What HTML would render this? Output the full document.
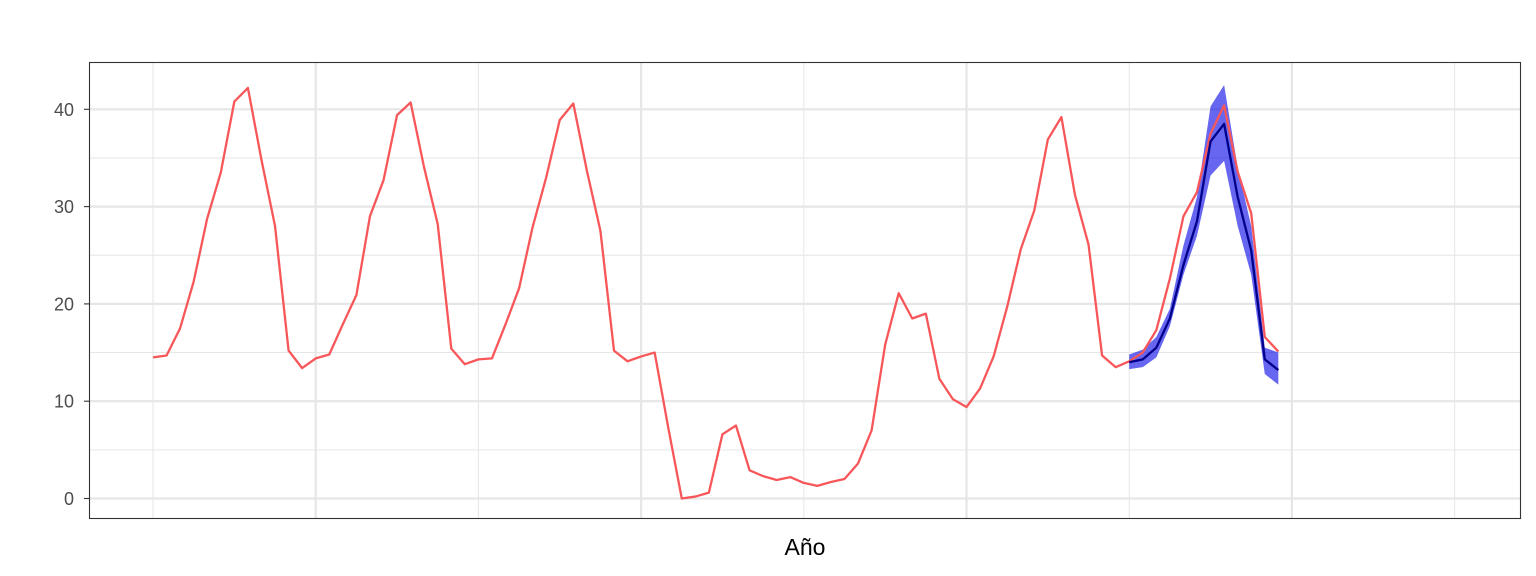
<!DOCTYPE html>
<html><head><meta charset="utf-8"><style>
html,body{margin:0;padding:0;background:#fff;}
svg{display:block;font-family:"Liberation Sans",Arial,sans-serif;}
</style></head><body>
<svg id="chart" width="1536" height="576" viewBox="0 0 1536 576">
<g id="grid"></g>
<g id="yaxis"></g>
<g id="series"></g>
<rect x="89.5" y="62.5" width="1431" height="456" fill="none" stroke="#333" stroke-width="1.1"/>
<text x="805" y="555" text-anchor="middle" font-size="23" fill="#000">Año</text>
</svg>
<script>
const observed = [14.5,14.7,17.5,22.3,28.8,33.5,40.8,42.2,34.8,28.0,15.2,13.4,
14.4,14.8,17.9,20.9,29.0,32.7,39.4,40.7,34.0,28.2,15.4,13.8,
14.3,14.4,17.9,21.6,27.9,33.0,38.9,40.6,33.7,27.5,15.2,14.1,
14.6,15.0,7.3,0.0,0.2,0.6,6.6,7.5,2.9,2.3,1.9,2.2,
1.6,1.3,1.7,2.0,3.6,7.0,15.8,21.1,18.5,19.0,12.3,10.2,
9.4,11.3,14.6,19.7,25.6,29.6,36.9,39.2,31.2,26.1,14.7,13.5,
14.1,15.0,17.3,22.6,29.0,31.5,37.5,40.4,33.6,29.3,16.6,15.1];
const forecastStart = 72;
const forecastMean = [14.0,14.3,15.5,18.5,24.0,28.5,36.7,38.5,31.0,25.5,14.3,13.2];
const forecastLower = [13.3,13.5,14.5,17.7,23.0,27.0,33.2,34.7,28.0,23.0,12.8,11.7];
const forecastUpper = [14.8,15.3,16.6,19.5,26.0,31.0,40.3,42.5,34.0,28.0,15.5,15.0];
const yTicks = [0,10,20,30,40];
const yMinor = [5,15,25,35];
const xGridIdx = [0,12,24,36,48,60,72,84,96];

const NS="http://www.w3.org/2000/svg";
const X0=89.5,X1=1520.5,Y0=62.5,Y1=518.5;
const xs=i=>153+i*(162.7/12);
const ys=v=>498.5-v*9.73;
function mk(tag,attrs,parent){const e=document.createElementNS(NS,tag);for(const k in attrs)e.setAttribute(k,attrs[k]);parent.appendChild(e);return e;}
const grid=document.getElementById('grid'),yax=document.getElementById('yaxis'),ser=document.getElementById('series');
yMinor.forEach(v=>{const l=mk('line',{x1:X0,x2:X1,y1:ys(v),y2:ys(v),stroke:'#e6e6e6','stroke-width':1},grid);

});
xGridIdx.forEach((i,k)=>{const l=mk('line',{x1:xs(i),x2:xs(i),y1:Y0,y2:Y1,stroke:'#e6e6e6','stroke-width':k%2?2.2:1},grid);

});
yTicks.forEach(v=>{const l=mk('line',{x1:X0,x2:X1,y1:ys(v),y2:ys(v),stroke:'#e6e6e6','stroke-width':2.2},grid);


const t=mk('line',{x1:84,x2:X0,y1:ys(v),y2:ys(v),stroke:'#333','stroke-width':1.1},yax);


const tx=mk('text',{x:74,y:ys(v)+6.5,'text-anchor':'end','font-size':18,fill:'#4d4d4d'},yax);
tx.textContent=v;

});
let band='';
forecastUpper.forEach((v,k)=>band+=(k?'L':'M')+xs(forecastStart+k)+','+ys(v));
for(let k=forecastLower.length-1;k>=0;k--)band+='L'+xs(forecastStart+k)+','+ys(forecastLower[k]);
const b=mk('path',{d:band+'Z',fill:'#0000e6','fill-opacity':0.6,stroke:'none'},ser);


const o=mk('polyline',{points:observed.map((v,i)=>xs(i)+','+ys(v)).join(' '),fill:'none',stroke:'#f8575a','stroke-width':2.3,'stroke-linejoin':'round'},ser);


const m=mk('polyline',{points:forecastMean.map((v,k)=>xs(forecastStart+k)+','+ys(v)).join(' '),fill:'none',stroke:'#00008b','stroke-width':2.3,'stroke-linejoin':'round'},ser);


</script>
</body></html>
